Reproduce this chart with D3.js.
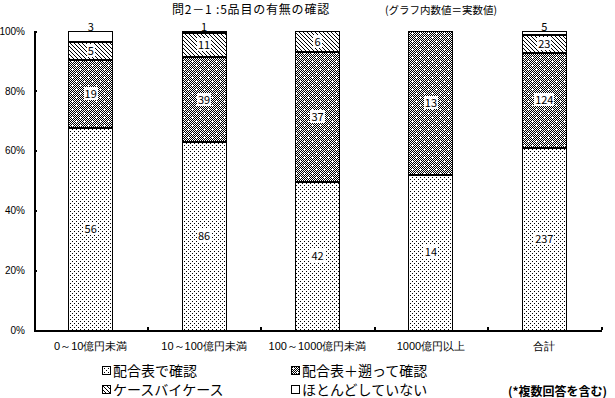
<!DOCTYPE html>
<html>
<head>
<meta charset="utf-8">
<script src="https://cdn.jsdelivr.net/npm/d3@7"></script>
<style>
  body { margin: 0; background: #fff; }
  svg { display: block; font-family: "Noto Sans CJK JP", sans-serif; }
  .axis text { fill: #000; }
</style>
</head>
<body>
<svg id="chart"></svg>
<script>
// values (counts, shown as share of each bar)
const categories = ["0～10億円未満", "10～100億円未満", "100～1000億円未満", "1000億円以上", "合計"];
const seriesNames = ["配合表で確認", "配合表＋遡って確認", "ケースバイケース", "ほとんどしていない"];
const checkByTable = [56, 86, 42, 14, 237];
const tablePlusBack = [19, 39, 37, 13, 124];
const caseByCase = [5, 11, 6, 0, 23];
const hardlyAny = [3, 1, 0, 0, 5];
const yTickValues = [0, 0.2, 0.4, 0.6, 0.8, 1];

class stackedPctChart {
    constructor(_config, _data) {
        this.config = {
            parentElement: _config.parentElement,
            containerWidth: _config.containerWidth || 615,
            containerHeight: _config.containerHeight || 398,
            margin: _config.margin || {top: 31, right: 14, bottom: 68, left: 34},
        }
        this.data = _data;
        this.initVis();
    }

    initVis() {
        let vis = this;
        vis.width = vis.config.containerWidth - vis.config.margin.left - vis.config.margin.right;
        vis.height = vis.config.containerHeight - vis.config.margin.top - vis.config.margin.bottom;

        vis.svg = d3.select(vis.config.parentElement)
            .attr('width', vis.config.containerWidth)
            .attr('height', vis.config.containerHeight)
            .attr('shape-rendering', 'crispEdges');

        // fill patterns (black/white like the original)
        const defs = vis.svg.append('defs');
        const pat = (id, size) => {
            const p = defs.append('pattern').attr('id', id)
                .attr('patternUnits', 'userSpaceOnUse')
                .attr('width', size).attr('height', size);
            p.append('rect').attr('width', size).attr('height', size).attr('fill', '#fff');
            return p;
        };
        const px = (p, x, y, c) => p.append('rect').attr('x', x).attr('y', y)
            .attr('width', 1).attr('height', 1).attr('fill', c || '#000');

        let p0 = pat('pat0', 4);
        px(p0, 0, 0); px(p0, 2, 2);

        let p1 = pat('pat1', 8);
        for (let x = 0; x < 8; x++) for (let y = 0; y < 8; y++) {
            if ((x + y) % 2 === 0 && !(x === 2 && y === 2) && !(x === 6 && y === 6)) px(p1, x, y);
        }

        let p2 = pat('pat2', 4);
        for (let i = 0; i < 4; i++) px(p2, i, i);

        pat('pat3', 4);

        vis.fills = ['url(#pat0)', 'url(#pat1)', 'url(#pat2)', 'url(#pat3)'];

        vis.xScale = d3.scaleBand()
            .domain(categories)
            .range([0, vis.width])
            .paddingInner(0.612)
            .paddingOuter(0.306);

        vis.yScale = d3.scaleLinear()
            .domain([0, 1])
            .range([vis.height, 0]);

        vis.bounds = d3.scaleLinear()
            .domain([0, categories.length])
            .range([0, vis.width]);

        vis.chart = vis.svg.append('g')
            .attr('transform', `translate(${vis.config.margin.left},${vis.config.margin.top})`);

        vis.updateVis();
    }

    updateVis() {
        let vis = this;
        vis.stack = d3.stack()
            .keys(seriesNames)
            .offset(d3.stackOffsetExpand)(vis.data);
        vis.renderVis();
    }

    renderVis() {
        let vis = this;

        // segments
        vis.stack.forEach((layer, s) => {
            vis.chart.selectAll(`.seg${s}`)
                .data(layer.filter(d => d[1] - d[0] > 0))
                .join('rect')
                .attr('class', `seg${s}`)
                .attr('x', d => vis.xScale(d.data.cat))
                .attr('y', d => vis.yScale(d[1]))
                .attr('width', vis.xScale.bandwidth())
                .attr('height', d => vis.yScale(d[0]) - vis.yScale(d[1]))
                .attr('fill', vis.fills[s])
                .attr('stroke', '#000')
                .attr('stroke-width', 1);
        });

        // thick separators between segments
        vis.stack.forEach((layer, s) => {
            if (s === 0) return;
            vis.chart.selectAll(`.sep${s}`)
                .data(layer.filter(d => d[1] - d[0] > 0))
                .join('line')
                .attr('class', `sep${s}`)
                .attr('x1', d => vis.xScale(d.data.cat))
                .attr('x2', d => vis.xScale(d.data.cat) + vis.xScale.bandwidth())
                .attr('y1', d => vis.yScale(d[0]))
                .attr('y2', d => vis.yScale(d[0]))
                .attr('stroke', '#000')
                .attr('stroke-width', 2);
        });

        // value labels with white boxes
        const labelG = vis.chart.append('g');
        vis.stack.forEach((layer, s) => {
            layer.forEach(d => {
                const v = d.data[seriesNames[s]];
                if (!v) return;
                const top = vis.yScale(d[1]), bot = vis.yScale(d[0]);
                const h = bot - top;
                const cy = h < 12 ? top - 4 : (top + bot) / 2;
                const g = labelG.append('g');
                const t = g.append('text')
                    .attr('x', vis.xScale(d.data.cat) + vis.xScale.bandwidth() / 2)
                    .attr('y', cy)
                    .attr('dy', '0.36em')
                    .attr('text-anchor', 'middle')
                    .attr('font-size', 11)
                    .text(v);
                if (h >= 12) {
                    const b = t.node().getBBox();
                    g.insert('rect', 'text')
                        .attr('x', b.x - 1).attr('y', b.y + 2)
                        .attr('width', b.width + 2).attr('height', b.height - 3)
                        .attr('fill', '#fff');
                }
            });
        });

        // axes
        vis.yAxis = d3.axisLeft(vis.yScale)
            .tickValues(yTickValues)
            .tickSize(-3)
            .tickSizeOuter(0)
            .tickPadding(9)
            .tickFormat(d3.format('.0%'));
        vis.yAxisG = vis.chart.append('g').attr('class', 'axis y-axis').call(vis.yAxis);
        vis.yAxisG.selectAll('text').attr('font-size', 10);
        vis.yAxisG.selectAll('line, path').attr('stroke-width', 2);

        vis.xAxis = d3.axisBottom(vis.xScale).tickSize(0).tickSizeOuter(0).tickPadding(12);
        vis.xAxisG = vis.chart.append('g').attr('class', 'axis x-axis')
            .attr('transform', `translate(0,${vis.height})`).call(vis.xAxis);
        vis.xAxisG.selectAll('text').attr('font-size', 11);
        vis.xAxisG.select('.domain').attr('stroke-width', 2);

        vis.bAxis = d3.axisTop(vis.bounds)
            .tickValues(d3.range(1, categories.length + 1))
            .tickSize(3).tickFormat('');
        vis.chart.append('g').attr('class', 'axis b-axis')
            .attr('transform', `translate(0,${vis.height})`).call(vis.bAxis)
            .call(g => g.select('.domain').remove())
            .selectAll('line').attr('stroke-width', 2);

        // titles
        vis.svg.append('text').attr('x', 172).attr('y', 14).attr('font-size', 12)
            .attr('letter-spacing', 0.8).text('問2－1 :5品目の有無の確認');
        vis.svg.append('text').attr('x', 385).attr('y', 14).attr('font-size', 10.5).text('(グラフ内数値＝実数値)');

        // legend 2x2
        const legend = vis.svg.append('g');
        seriesNames.forEach((name, s) => {
            const lx = s % 2 === 0 ? 102 : 291;
            const ly = s < 2 ? 366 : 385;
            const item = legend.append('g').attr('transform', `translate(${lx},${ly})`);
            item.append('rect').attr('width', 8).attr('height', 8)
                .attr('fill', vis.fills[s]).attr('stroke', '#000').attr('stroke-width', 1);
            item.append('text').attr('x', 11).attr('y', 10).attr('font-size', 14).text(name);
        });
        vis.svg.append('text').attr('x', 508).attr('y', 396)
            .attr('font-size', 12).attr('font-weight', 'bold').text('(*複数回答を含む)');
    }
}

const tableData = categories.map((c, i) => ({
    cat: c,
    [seriesNames[0]]: checkByTable[i],
    [seriesNames[1]]: tablePlusBack[i],
    [seriesNames[2]]: caseByCase[i],
    [seriesNames[3]]: hardlyAny[i]
}));

new stackedPctChart({parentElement: '#chart'}, tableData);
</script>
</body>
</html>
